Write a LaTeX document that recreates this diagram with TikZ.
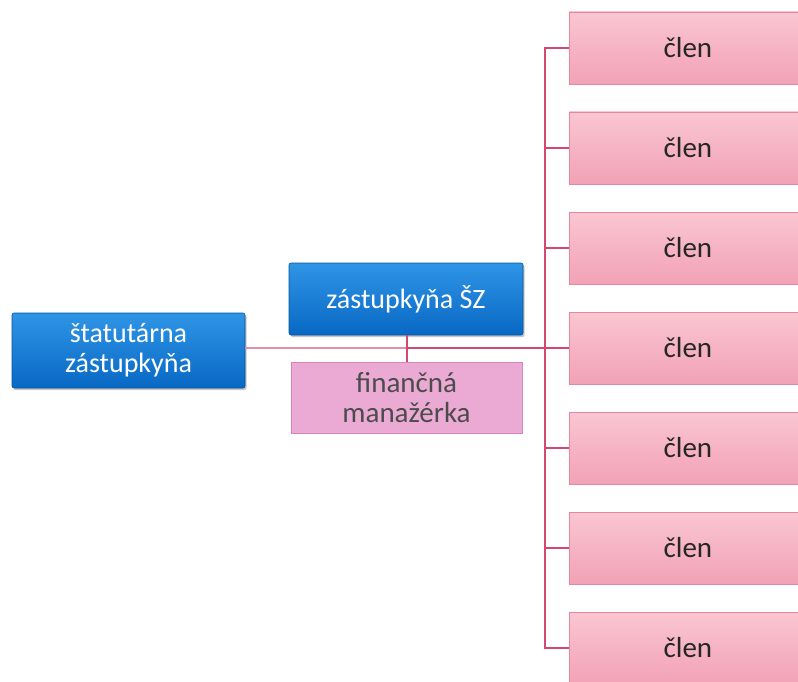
\documentclass[tikz,border=0pt]{standalone}
\usepackage{fontspec}
\setmainfont{Carlito}
\usetikzlibrary{shadows}
\definecolor{blueA}{HTML}{2F95E6}
\definecolor{blueB}{HTML}{0868C4}
\definecolor{pinkA}{HTML}{FAC6D2}
\definecolor{pinkB}{HTML}{F2A2B6}
\definecolor{pinkE}{HTML}{E587A0}
\definecolor{violetF}{HTML}{EBAAD3}
\definecolor{violetE}{HTML}{D885BC}
\definecolor{linec}{HTML}{D2486E}
\begin{document}
\begin{tikzpicture}[x=1pt,y=-1pt,
  bluebox/.style={draw=blueB!80!black, line width=0.6pt, top color=blueA, bottom color=blueB,
    text=white, font=\fontsize{28}{33}\selectfont, align=center, rounded corners=2pt,
    drop shadow={shadow xshift=1.5pt, shadow yshift=-2pt, opacity=0.45}},
  finbox/.style={draw=violetE, line width=0.8pt, fill=violetF, text=black!70,
    font=\fontsize{29}{33}\selectfont, align=center},
  clenbox/.style={draw=pinkE, line width=0.8pt, top color=pinkA, bottom color=pinkB,
    text=black!85, font=\fontsize{29}{33}\selectfont},
  conn/.style={draw=linec, line width=2.6pt}]
\useasboundingbox (0,0) rectangle (798,682);
% left box
\node[bluebox, minimum width=233pt, minimum height=75pt, inner sep=0pt] (stat) at (128.5,350.5) {štatutárna\\[-3pt]zástupkyňa};
\node[bluebox, minimum width=234pt, minimum height=72pt, inner sep=0pt] (zast) at (406,299) {zástupkyňa ŠZ};
\node[finbox, minimum width=231pt, minimum height=71pt, inner sep=0pt] (fin) at (406.5,397.5) {finančná\\[-3pt]manažérka};
% člen boxes
\foreach \i in {1,...,7}{
  \node[clenbox, minimum width=240pt, minimum height=72pt, inner sep=0pt, anchor=west] (c\i) at (569,{48+100*(\i-1)}) {\hspace*{-3pt}člen\hspace*{0pt}};
}
% bus
\coordinate (bt) at (545,48);
\coordinate (bb) at (545,648);
\coordinate (bm) at (545,348);
\coordinate (zm) at (407,348);
\draw[conn, line cap=rect] (bt) -- (bb);
\foreach \i in {1,...,7}{
  \draw[conn] (545,{48+100*(\i-1)}) -- (c\i.west);
}
\draw[draw=linec!60, line width=1.4pt] (stat.east |- zm) -- (zm);
\draw[conn] (zm) -- (bm);
\draw[draw=linec, line width=1.6pt] (zast.south -| zm) -- (fin.north -| zm);
\end{tikzpicture}
\end{document}
